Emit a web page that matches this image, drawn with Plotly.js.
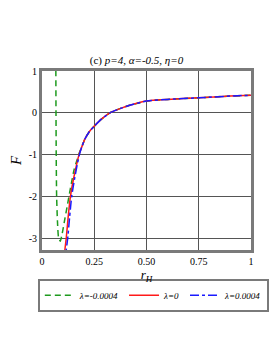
<!DOCTYPE html>
<html>
<head>
<meta charset="utf-8">
<script src="https://cdn.plot.ly/plotly-3.0.1.min.js"></script>
<style>html,body{margin:0;padding:0;background:#fff;}#chart{width:273px;height:353px;}</style>
</head>
<body>
<div id="chart"></div>
<script>
// lambda = -0.0004 (green, dashed)
const rGreen = [0.066, 0.067, 0.068, 0.070, 0.074, 0.079, 0.0875, 0.094, 0.100, 0.110, 0.120, 0.129, 0.140, 0.153, 0.165, 0.177, 0.190, 0.204, 0.228, 0.250, 0.280, 0.325, 0.373, 0.420, 0.500, 0.600, 0.750, 0.900, 1.000];
const FGreen = [1.5, 0.0, -1.0, -2.0, -2.6, -2.97, -3.07, -2.95, -2.8, -2.52, -2.25, -2.0, -1.7, -1.37, -1.17, -0.98, -0.82, -0.64, -0.44, -0.32, -0.17, 0.0, 0.10, 0.18, 0.28, 0.32, 0.36, 0.40, 0.42];
// lambda = 0 (red, solid)
const rRed = [0.105, 0.110, 0.116, 0.125, 0.136, 0.150, 0.165, 0.177, 0.190, 0.204, 0.228, 0.250, 0.280, 0.325, 0.373, 0.420, 0.500, 0.600, 0.750, 0.900, 1.000];
const FRed = [-3.5, -3.25, -3.0, -2.5, -2.0, -1.6, -1.25, -1.0, -0.82, -0.64, -0.44, -0.32, -0.17, 0.0, 0.10, 0.18, 0.28, 0.32, 0.36, 0.40, 0.42];
// lambda = 0.0004 (blue, dash-dot)
const rBlue = [0.110, 0.116, 0.123, 0.132, 0.142, 0.155, 0.168, 0.179, 0.190, 0.204, 0.228, 0.250, 0.280, 0.325, 0.373, 0.420, 0.500, 0.600, 0.750, 0.900, 1.000];
const FBlue = [-3.6, -3.28, -3.0, -2.5, -2.0, -1.6, -1.25, -1.0, -0.82, -0.64, -0.44, -0.32, -0.17, 0.0, 0.10, 0.18, 0.28, 0.32, 0.36, 0.40, 0.42];

const seriesNames = ['λ=-0.0004', 'λ=0', 'λ=0.0004'];
const xTickVals = [0, 0.25, 0.5, 0.75, 1];
const xTickText = ['0', '0.25', '0.50', '0.75', '1'];
const yTickVals = [1, 0, -1, -2, -3];
const yTickText = ['1', '0', '-1', '-2', '-3'];

const serif = "'Liberation Serif', 'Times New Roman', serif";

const traces = [
  {x: rGreen, y: FGreen, name: seriesNames[0], mode: 'lines', line: {color: '#1e9a1e', width: 1.5, dash: '6px,4px', shape: 'spline', smoothing: 0.6}},
  {x: rRed, y: FRed, name: seriesNames[1], mode: 'lines', line: {color: '#ff1a1a', width: 1.5, shape: 'spline', smoothing: 0.6}},
  {x: rBlue, y: FBlue, name: seriesNames[2], mode: 'lines', line: {color: '#1a1aff', width: 1.5, dash: 'dashdot', shape: 'spline', smoothing: 0.6}}
];

const layout = {
  width: 273, height: 353,
  margin: {l: 42, r: 22, t: 71, b: 103},
  paper_bgcolor: '#fff', plot_bgcolor: '#fff',
  font: {family: serif, size: 10, color: '#000'},
  title: {text: '(c) <i>p=4, α=-0.5, η=0</i>', font: {family: serif, size: 11, color: '#000'}, x: 0.5, xanchor: 'center', y: 1 - 60/353, yanchor: 'middle'},
  xaxis: {range: [0, 1], tickvals: xTickVals, ticktext: xTickText, showgrid: true, gridcolor: '#555', gridwidth: 1,
          zeroline: false, showline: true, linecolor: '#7a7a7a', linewidth: 3, mirror: true, ticks: '',
          tickfont: {family: serif, size: 10},
          title: {text: '<i>r<sub>H</sub></i>', font: {family: serif, size: 13}, standoff: 0}},
  yaxis: {range: [-3.28, 1], tickvals: yTickVals, ticktext: yTickText, showgrid: true, gridcolor: '#555', gridwidth: 1,
          zeroline: false, showline: true, linecolor: '#7a7a7a', linewidth: 3, mirror: true, ticks: '',
          tickfont: {family: serif, size: 10},
          title: {text: '<i>F</i>', font: {family: serif, size: 15}, standoff: 4}},
  showlegend: true,
  legend: {orientation: 'h', x: -0.02, xanchor: 'left', y: -0.16, yanchor: 'top',
           bordercolor: '#7a7a7a', borderwidth: 2, bgcolor: '#fff',
           font: {family: serif, size: 9, style: 'italic'}, itemwidth: 30, tracegroupgap: 0}
};

Plotly.newPlot('chart', traces, layout, {staticPlot: true, displayModeBar: false});
</script>
</body>
</html>
